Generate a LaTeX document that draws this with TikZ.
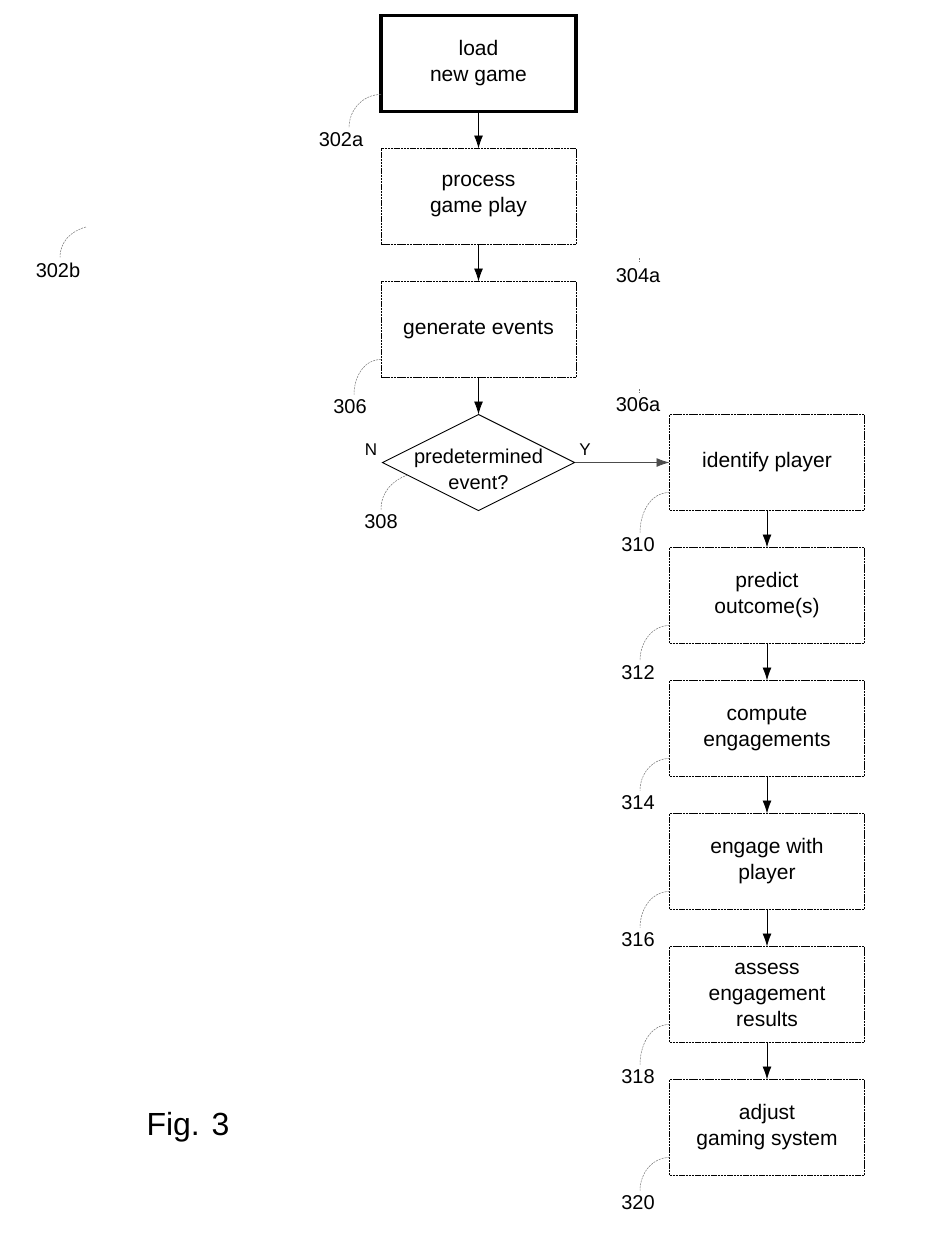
\documentclass[tikz,border=0pt]{standalone}
\usepackage{fontspec}
\setmainfont{Liberation Sans}
\usetikzlibrary{positioning,shapes.geometric,arrows.meta}
\tikzset{
stepbox/.style={draw,dash pattern=on 2.5pt off 0.7pt,line width=0.9pt,minimum width=195pt,minimum height=96pt,inner sep=0pt,outer sep=0pt,align=center,font=\fontsize{21}{26}\selectfont},
startbox/.style={stepbox,solid,line width=3.5pt},
decision/.style={draw,diamond,line width=0.9pt,minimum width=192pt,minimum height=96pt,inner sep=0pt,outer sep=0pt},
refnum/.style={inner sep=0pt,font=\fontsize{20}{24}\selectfont},
yesno/.style={inner sep=0pt,font=\fontsize{17}{20}\selectfont},
leader/.style={black!55,line width=0.5pt,dash pattern=on 2pt off 1pt},
flow/.style={-{Latex[length=13pt,width=9pt]},line width=0.9pt}
}
\begin{document}
\begin{tikzpicture}[x=1pt,y=-1pt]
\pgfmathsetmacro{\gap}{37}
\useasboundingbox(0,0)rectangle(946,1245);
\node[startbox](load)at(478.5,63.5){load\\new game};
\node[stepbox,below=\gap pt of load](play){process\\game play};
\node[stepbox,below=\gap pt of play](events){generate events};
\node[decision,below=\gap pt of events,label={[align=center,yshift=-7pt,font=\fontsize{20}{26}\selectfont]center:predetermined\\event?}](d308){};
\node[stepbox,right=95pt of d308](identify){identify player};
\node[stepbox,below=\gap pt of identify](predict){predict\\outcome(s)};
\node[stepbox,below=\gap pt of predict](compute){compute\\engagements};
\node[stepbox,below=\gap pt of compute](engage){engage with\\player};
\node[stepbox,below=\gap pt of engage](assess){assess\\engagement\\results};
\node[stepbox,below=\gap pt of assess](adjust){adjust\\gaming system};
\draw[flow](load)--(play);
\draw[flow](play)--(events);
\draw[flow](events)--(d308);
\draw[flow,black!70](d308.east)--(identify.west);
\draw[flow](identify)--(predict);
\draw[flow](predict)--(compute);
\draw[flow](compute)--(engage);
\draw[flow](engage)--(assess);
\draw[flow](assess)--(adjust);
\node[yesno](no)at(371,450){N};
\node[yesno](yes)at(585,450){Y};
\node[refnum](n302a)at(341,140){302a};
\node[refnum](n302b)at(58,270){302b};
\node[refnum](n304a)at(638,276){304a};
\node[refnum](n306)at(350,407){306};
\node[refnum](n306a)at(638,405){306a};
\node[refnum](n308)at(381,522){308};
\node[refnum](n310)at(638,545){310};
\node[refnum](n312)at(638,673){312};
\node[refnum](n314)at(638,803){314};
\node[refnum](n316)at(638,940){316};
\node[refnum](n318)at(638,1077){318};
\node[refnum](n320)at(638,1203){320};
\coordinate(c302b)at(86,227);
\coordinate(c304a)at(639,258);
\coordinate(c306a)at(639,389);
\draw[leader]([yshift=17pt]load.south west)to[out=180,in=90]([xshift=8pt,yshift=5pt]n302a.north);
\draw[leader](c302b)to[out=195,in=90]([xshift=2pt,yshift=5pt]n302b.north);
\draw[leader](c304a)--++(0,4);
\draw[leader](c306a)--++(0,4);
\draw[leader]([yshift=18pt]events.south west)to[out=180,in=90]([xshift=4pt,yshift=5pt]n306.north);
\draw[leader](d308.190)to[out=200,in=90]([yshift=5pt]n308.north);
\foreach \b/\n in {identify/n310,predict/n312,compute/n314,engage/n316,assess/n318,adjust/n320}
\draw[leader]([yshift=18pt]\b.south west)to[out=180,in=90]([xshift=2pt,yshift=5pt]\n.north);
\node[inner sep=0pt,font=\fontsize{32}{36}\selectfont](fig)at(188,1127){Fig. 3};
\end{tikzpicture}
\end{document}
